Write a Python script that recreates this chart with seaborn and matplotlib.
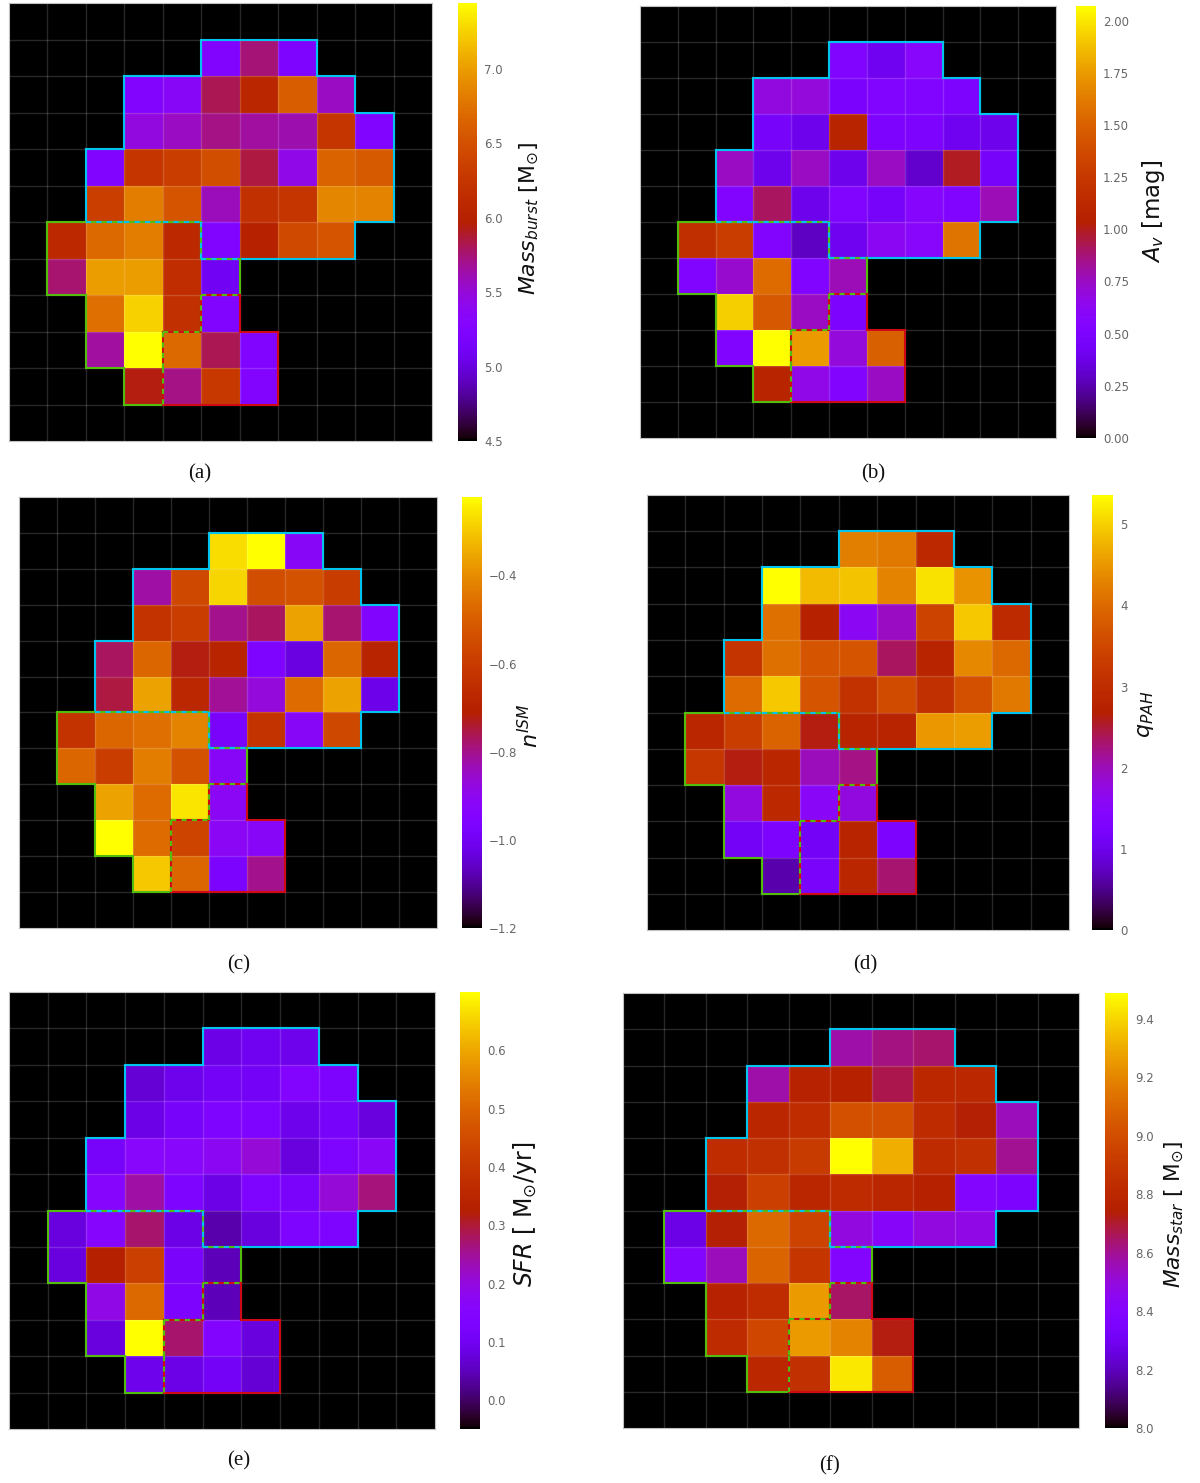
import numpy as np
import pandas as pd
import matplotlib
matplotlib.use('Agg')
import matplotlib.pyplot as plt
import seaborn as sns

# first filled column of each filled row (rows 1 to 10 of the 12x11 grid)
row_start = [5, 3, 3, 2, 2, 1, 1, 2, 2, 3]

mass_burst = [
    [5.25, 5.75, 5.22],
    [5.26, 5.35, 5.82, 6.06, 6.60, 5.56],
    [5.47, 5.56, 5.71, 5.65, 5.62, 6.24, 5.24],
    [5.24, 6.24, 6.32, 6.47, 5.85, 5.44, 6.64, 6.58],
    [6.35, 6.82, 6.53, 5.59, 6.18, 6.24, 6.88, 6.85],
    [6.09, 6.68, 6.82, 6.09, 5.24, 6.00, 6.44, 6.53],
    [5.76, 7.00, 7.00, 6.15, 5.09],
    [6.72, 7.25, 6.18, 5.24],
    [5.65, 7.44, 6.68, 5.82, 5.24],
    [5.94, 5.71, 6.28, 5.26],
]
a_v = [
    [0.52, 0.41, 0.58],
    [0.68, 0.70, 0.48, 0.52, 0.52, 0.50],
    [0.46, 0.39, 1.08, 0.50, 0.50, 0.41, 0.39],
    [0.75, 0.39, 0.75, 0.39, 0.75, 0.31, 0.99, 0.46],
    [0.54, 0.91, 0.39, 0.52, 0.46, 0.56, 0.52, 0.77],
    [1.18, 1.28, 0.54, 0.29, 0.41, 0.62, 0.58, 1.59],
    [0.52, 0.72, 1.55, 0.52, 0.77],
    [1.93, 1.45, 0.75, 0.50],
    [0.52, 2.07, 1.75, 0.70, 1.49],
    [1.08, 0.66, 0.54, 0.75],
]
n_ism = [
    [-0.27, -0.22, -0.92],
    [-0.82, -0.56, -0.28, -0.54, -0.53, -0.60],
    [-0.63, -0.59, -0.80, -0.77, -0.36, -0.78, -0.95],
    [-0.77, -0.48, -0.72, -0.69, -0.96, -1.03, -0.48, -0.69],
    [-0.75, -0.36, -0.68, -0.81, -0.87, -0.47, -0.36, -1.02],
    [-0.63, -0.48, -0.46, -0.42, -0.98, -0.63, -0.92, -0.56],
    [-0.48, -0.59, -0.43, -0.53, -0.92],
    [-0.36, -0.47, -0.26, -0.91],
    [-0.22, -0.47, -0.57, -0.91, -0.92],
    [-0.30, -0.48, -0.97, -0.80],
]
q_pah = [
    [4.23, 4.18, 2.89],
    [5.36, 4.82, 4.88, 4.29, 5.15, 4.45],
    [4.07, 2.73, 1.61, 1.93, 3.43, 4.93, 2.95],
    [3.16, 4.07, 3.70, 3.70, 2.36, 2.79, 4.34, 3.97],
    [4.02, 4.93, 3.70, 3.11, 3.54, 3.06, 3.64, 4.18],
    [2.84, 3.32, 3.91, 2.63, 2.79, 2.79, 4.50, 4.56],
    [3.22, 2.63, 2.84, 1.98, 2.20],
    [1.77, 2.89, 1.55, 1.77],
    [1.13, 1.29, 1.13, 2.79, 1.29],
    [0.64, 1.23, 2.84, 2.30],
]
sfr = [
    [0.086, 0.100, 0.093],
    [0.070, 0.093, 0.108, 0.108, 0.146, 0.131],
    [0.086, 0.116, 0.138, 0.138, 0.093, 0.116, 0.078],
    [0.116, 0.161, 0.161, 0.176, 0.206, 0.078, 0.138, 0.168],
    [0.153, 0.243, 0.138, 0.086, 0.138, 0.123, 0.206, 0.266],
    [0.078, 0.153, 0.273, 0.086, 0.041, 0.078, 0.138, 0.138],
    [0.078, 0.326, 0.423, 0.123, 0.048],
    [0.191, 0.505, 0.131, 0.048],
    [0.078, 0.700, 0.273, 0.146, 0.078],
    [0.093, 0.086, 0.108, 0.070],
]
mass_star = [
    [8.57, 8.62, 8.64],
    [8.57, 8.77, 8.76, 8.67, 8.80, 8.80],
    [8.79, 8.83, 9.01, 9.01, 8.82, 8.74, 8.55],
    [8.83, 8.85, 8.91, 9.49, 9.31, 8.82, 8.85, 8.60],
    [8.74, 8.94, 8.79, 8.82, 8.79, 8.76, 8.39, 8.36],
    [8.27, 8.74, 9.10, 8.95, 8.49, 8.42, 8.49, 8.48],
    [8.39, 8.55, 9.09, 8.88, 8.40],
    [8.77, 8.83, 9.26, 8.65],
    [8.82, 8.97, 9.26, 9.19, 8.73],
    [8.80, 8.85, 9.44, 9.06],
]

# regions as (row, first col, last col)
region_cyan = [(1, 5, 7), (2, 3, 8), (3, 3, 9), (4, 2, 9), (5, 2, 9), (6, 5, 8)]
region_green = [(6, 1, 4), (7, 1, 5), (8, 2, 4), (9, 2, 3), (10, 3, 3)]
region_red = [(8, 5, 5), (9, 4, 6), (10, 4, 6)]

W, H = 1200, 1483
CYAN, GREEN, RED = '#00c4ee', '#52bd0c', '#cf0a14'

# values, vmin, vmax, ticks, label, label size, axes box, cbar x, label x/y, caption, caption x/y
panels = [
    (mass_burst, 4.5, 7.444, np.arange(4.5, 7.01, 0.5), r'$Mass_{burst}$ [M$_{\odot}$]', 15.8,
     (9, 3, 432, 441), (458, 477), (518, 219), '(a)', (200, 474)),
    (a_v, 0, 2.07, np.arange(0, 2.01, 0.25), r'$A_{v}$ [mag]', 16.5,
     (640, 6, 1056, 438), (1076, 1096), (1140, 211), '(b)', (873, 474)),
    (n_ism, -1.2, -0.222, np.arange(-1.2, -0.39, 0.2), r'$n^{ISM}$', 16,
     (19, 497, 437, 928), (462, 482), (517, 726), '(c)', (239, 965)),
    (q_pah, 0, 5.36, np.arange(0, 5.1, 1), r'$q_{PAH}$', 16,
     (647, 495, 1069, 930), (1092, 1113), (1136, 714), '(d)', (865, 965)),
    (sfr, -0.049, 0.70, np.arange(0, 0.61, 0.1), r'$SFR$ [ M$_{\odot}$/yr]', 17,
     (9, 992, 435, 1429), (460, 480), (511, 1214), '(e)', (239, 1461)),
    (mass_star, 8.0, 9.488, np.arange(8.0, 9.41, 0.2), r'$Mass_{star}$ [ M$_{\odot}$]', 15.6,
     (623, 993, 1079, 1428), (1105, 1128), (1163, 1214), '(f)', (829, 1466)),
]


def to_grid(rows):
    grid = np.full((12, 11), np.nan)
    for i, vals in enumerate(rows):
        grid[i + 1, row_start[i]:row_start[i] + len(vals)] = vals
    return pd.DataFrame(grid)


def region_edges(region):
    cells = {(r, c) for r, c0, c1 in region for c in range(c0, c1 + 1)}
    edges = set()
    for r, c in cells:
        if (r - 1, c) not in cells:
            edges.add(((c, r), (c + 1, r)))
        if (r + 1, c) not in cells:
            edges.add(((c, r + 1), (c + 1, r + 1)))
        if (r, c - 1) not in cells:
            edges.add(((c, r), (c, r + 1)))
        if (r, c + 1) not in cells:
            edges.add(((c + 1, r), (c + 1, r + 1)))
    return edges


def px_axes(fig, x0, y0, x1, y1):
    return fig.add_axes([x0 / W, 1 - y1 / H, (x1 - x0) / W, (y1 - y0) / H])


cyan_edges = region_edges(region_cyan)
green_edges = region_edges(region_green)
red_edges = region_edges(region_red)

sns.set_theme(style='white')
plt.rcParams['mathtext.fontset'] = 'dejavusans'
fig = plt.figure(figsize=(W / 100, H / 100), dpi=100)

for values, vmin, vmax, ticks, label, lsize, box, cbar_x, label_xy, caption, cap_xy in panels:
    ax = px_axes(fig, *box)
    cax = px_axes(fig, cbar_x[0], box[1], cbar_x[1], box[3])
    ax.set_facecolor('black')
    sns.heatmap(to_grid(values), ax=ax, cbar_ax=cax, cmap='gnuplot', vmin=vmin, vmax=vmax,
                square=False, xticklabels=False, yticklabels=False,
                cbar_kws={'ticks': ticks})
    ax.set_xlabel('')
    ax.set_ylabel('')

    # faint cell grid on top of the map
    ax.vlines(range(1, 11), 0, 12, color='white', alpha=0.16, lw=1)
    ax.hlines(range(1, 12), 0, 11, color='white', alpha=0.16, lw=1)
    for s in ax.spines.values():
        s.set_visible(True)
        s.set_color('#c0c0c0')
        s.set_linewidth(0.8)

    # region outlines, shared edges get a two colour dash
    for edges, col in [(cyan_edges, CYAN), (green_edges, GREEN), (red_edges, RED)]:
        for p, q in edges:
            ax.plot([p[0], q[0]], [p[1], q[1]], color=col, lw=1.5,
                    solid_capstyle='projecting', zorder=4)
    for shared, col in [(cyan_edges & green_edges, CYAN), (green_edges & red_edges, GREEN)]:
        for p, q in shared:
            ax.plot([p[0], q[0]], [p[1], q[1]], color=col, lw=1.5,
                    dashes=(2.5, 2.5), zorder=5)

    cax.tick_params(length=0, labelsize=8.5, labelcolor='#666666', pad=5)
    cax.set_ylabel(label, fontsize=lsize, color='#111111')
    cax.yaxis.set_label_coords((label_xy[0] - cbar_x[0]) / (cbar_x[1] - cbar_x[0]),
                               (box[3] - label_xy[1]) / (box[3] - box[1]))
    for s in cax.spines.values():
        s.set_visible(False)

    fig.text(cap_xy[0] / W, 1 - cap_xy[1] / H, caption, family='Liberation Serif',
             fontsize=15, ha='center', va='center', color='#111111')

fig.savefig('out.png', dpi=100)
